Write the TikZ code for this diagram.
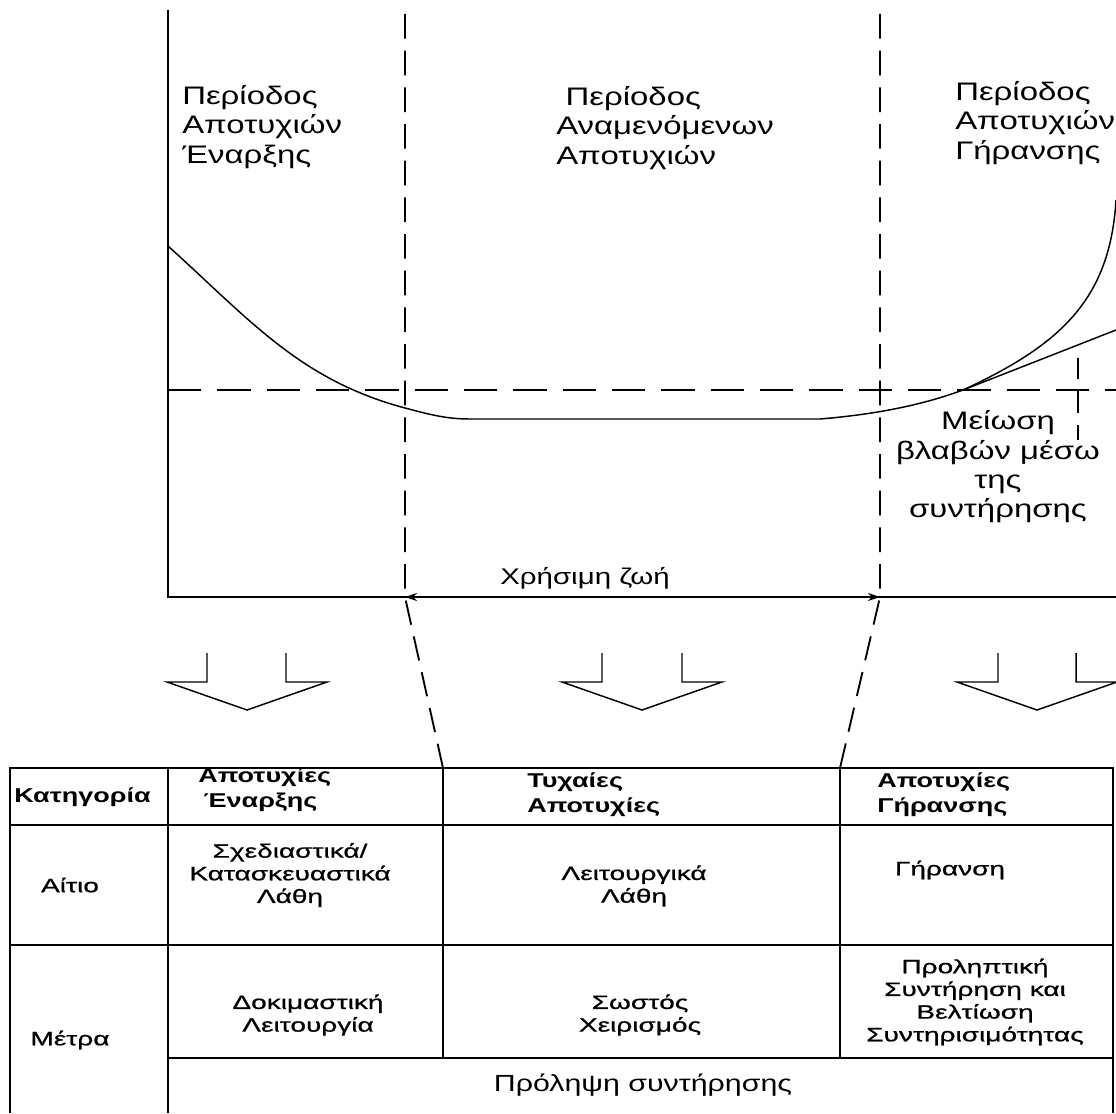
\documentclass[tikz,border=0pt]{standalone}
\usepackage{fontspec}
\setmainfont[FakeStretch=1.3]{Liberation Sans}
\newfontfamily\tabfont[FakeStretch=1.45, FakeBold=0.8]{Liberation Sans}
\newfontfamily\headfont[FakeStretch=1.35, UprightFont={* Bold}]{Liberation Sans}
\usetikzlibrary{arrows.meta}
\begin{document}
\begin{tikzpicture}[x=0.75pt,y=-0.75pt,
  >={Stealth[length=9pt,width=6pt]},
  axis/.style={line width=1.5pt},
  curve/.style={line width=1.1pt},
  vdash/.style={line width=1.4pt, dash pattern=on 18.5pt off 9pt},
  hdash/.style={line width=1.4pt, dash pattern=on 25pt off 12pt},
  grid/.style={line width=1.4pt},
  big/.style={font=\fontsize{19}{22}\selectfont, inner sep=0pt, align=left},
  cell/.style={font=\tabfont\fontsize{14.5}{17}\selectfont, inner sep=0pt, align=center},
  head/.style={font=\headfont\fontsize{15}{18.5}\selectfont, inner sep=0pt, align=left, anchor=west},
  openarrow/.style={line width=1.1pt, line join=miter}
]
\useasboundingbox (0,0) rectangle (1116,1113);
\fill[white] (0,0) rectangle (1116,1113);

% axes
\coordinate (ytop) at (168,10);
\coordinate (origin) at (168,597);
\coordinate (xend) at (1116,597);
\draw[axis] (ytop) -- (origin) -- (xend);

% period boundaries, continued down to the table
\coordinate (b1top) at (405,14);
\coordinate (b1bot) at (405,597);
\coordinate (b2top) at (880,14);
\coordinate (b2bot) at (880,597);
\coordinate (t1) at (443,768);
\coordinate (t2) at (840,768);
\draw[vdash] (b1top) -- (b1bot) -- (t1);
\draw[vdash] (b2top) -- (b2bot) -- (t2);

% constant failure level
\coordinate (lvlL) at (168,390);
\coordinate (lvlR) at (1116,390);
\draw[hdash] (lvlL) -- (lvlR);

% reduction marker
\coordinate (mk1) at (1078,358);
\coordinate (mk2) at (1078,440);
\draw[vdash, dash pattern=on 16pt off 9pt] (mk1) -- (mk2);

% bathtub curve
\coordinate (c0) at (168,246);
\coordinate (c1) at (405,408);
\coordinate (c2) at (470,419);
\coordinate (c3) at (820,419);
\coordinate (c4) at (963,390);
\coordinate (c5) at (1116,200);
\coordinate (c6) at (1116,330);
\draw[curve] (c0) .. controls (250,320) and (300,380) .. (c1)
  .. controls (428,414) and (445,419) .. (c2) -- (c3)
  .. controls (880,414) and (925,404) .. (c4)
  .. controls (1060,345) and (1110,300) .. (c5);
\draw[curve] (c4) -- (c6);

% useful life
\draw[line width=1pt, <->] (b1bot) -- (b2bot);
\node[font=\fontsize{17}{20}\selectfont, inner sep=0pt] (life) at (585,578) {Χρήσιμη ζωή};

% period labels
\node[big, anchor=west] (p1) at (182,127) {Περίοδος\\Αποτυχιών\\Έναρξης};
\node[big, anchor=west] (p2) at (556,128) {\hspace{7pt}Περίοδος\\Αναμενόμενων\\Αποτυχιών};
\node[big, anchor=west] (p3) at (955,123) {Περίοδος\\Αποτυχιών\\Γήρανσης};
\node[big, align=center] (red) at (998,467) {Μείωση\\βλαβών μέσω\\της\\συντήρησης};

% open block arrows
\draw[openarrow] (207,653) -- (207,682) -- (167,682) -- (247,710) -- (327,682) -- (286,682) -- (286,653);
\draw[openarrow] (602,653) -- (602,682) -- (562,682) -- (642,710) -- (722,682) -- (682,682) -- (682,653);
\draw[openarrow] (998,653) -- (998,682) -- (957,682) -- (1037,710) -- (1117,682) -- (1076,682) -- (1076,653);

% table text
\node[head] (h0) at (14,797) {Κατηγορία};
\node[head] (h1) at (198,790) {Αποτυχίες\\\hspace{4pt}Έναρξης};
\node[head] (h2) at (527,795) {Τυχαίες\\Αποτυχίες};
\node[head] (h3) at (877,795) {Αποτυχίες\\Γήρανσης};

\node[cell] (r1a) at (70,885) {Αίτιο};
\node[cell] (r1b) at (290,875) {Σχεδιαστικά/\\Κατασκευαστικά\\Λάθη};
\node[cell] (r1c) at (634,886) {Λειτουργικά\\Λάθη};
\node[cell] (r1d) at (950,870) {Γήρανση};

\node[cell] (r2a) at (70,1040) {Μέτρα};
\node[cell] (r2b) at (308,1015) {Δοκιμαστική\\Λειτουργία};
\node[cell] (r2c) at (640,1015) {Σωστός\\Χειρισμός};
\node[cell] (r2d) at (975,1002) {Προληπτική\\Συντήρηση και\\Βελτίωση\\Συντηρισιμότητας};

\node[font=\fontsize{17.5}{20}\selectfont, inner sep=0pt] (r3) at (643,1085) {Πρόληψη συντήρησης};

% table grid
\draw[grid] (10,1113) -- (10,768) -- (1113,768) -- (1113,1113);
\draw[grid] (10,825) -- (1113,825);
\draw[grid] (10,945) -- (1113,945);
\draw[grid] (168,1058) -- (1113,1058);
\draw[grid] (168,768) -- (168,1113);
\draw[grid] (443,768) -- (443,1058);
\draw[grid] (840,768) -- (840,1058);
\end{tikzpicture}
\end{document}
